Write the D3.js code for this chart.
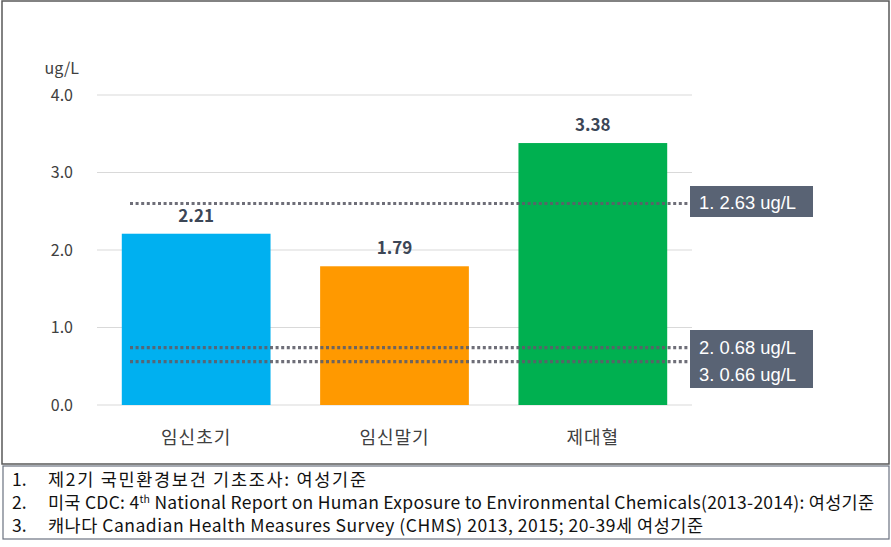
<!DOCTYPE html>
<html><head><meta charset="utf-8">
<script src="https://cdn.jsdelivr.net/npm/d3@7"></script>
<style>html,body{margin:0;padding:0;background:#fff;}svg{display:block;}</style>
</head><body>
<svg id="c" width="891" height="547"></svg>
<script>
const categories = ["임신초기", "임신말기", "제대혈"];
const values = [2.21, 1.79, 3.38];
const barColors = ["#00B0F0", "#FF9900", "#00B050"];
const yTicks = [0, 1, 2, 3, 4];
const yUnit = "ug/L";
// reference values (labels) and the levels at which the dotted lines are drawn in the picture
const refValues = [2.63, 0.68, 0.66];
const refDrawnLevels = [2.6, 0.74, 0.56];
const refLabels = ["1. 2.63 ug/L", "2. 0.68 ug/L", "3. 0.66 ug/L"];
const footNums = ["1.", "2.", "3."];
const footnotes = [
  [{t:"제2기 국민환경보건 기초조사: 여성기준"}],
  [{t:"미국 CDC: 4"},{t:"th",sup:true},{t:" National Report on Human Exposure to Environmental Chemicals(2013-2014): 여성기준"}],
  [{t:"캐나다 Canadian Health Measures Survey (CHMS) 2013, 2015; 20-39세 여성기준"}]
];
const footWidths = [318, 826, 655];

const svg = d3.select("#c");
const KR = "'Noto Sans CJK KR','Noto Sans',sans-serif";
const textCol = "#404040";

// outer boxes
svg.append("rect").attr("x",2).attr("y",1).attr("width",887).attr("height",463)
  .attr("fill","#fff").attr("stroke","#595959").attr("stroke-width",1.5);
svg.append("rect").attr("x",3).attr("y",466).attr("width",886).attr("height",73)
  .attr("fill","#fff").attr("stroke","#6b7280").attr("stroke-width",1.2);

const x = d3.scaleBand().domain(categories).range([97, 692]).paddingInner(0.25).paddingOuter(0.125);
const y = d3.scaleLinear().domain([0, 4]).range([405, 95]);

// gridlines
svg.append("g").selectAll("line").data(yTicks).join("line")
  .attr("x1",97).attr("x2",692).attr("y1",d=>y(d)).attr("y2",d=>y(d))
  .attr("stroke","#d9d9d9").attr("stroke-width",1);

// y axis labels
const yAxis = d3.axisLeft(y).tickValues(yTicks).tickFormat(d3.format(".1f")).tickSize(0).tickPadding(0);
const ga = svg.append("g").attr("transform","translate(73,0)").call(yAxis);
ga.select(".domain").remove();
ga.selectAll("text").attr("font-family",KR).attr("font-size",16).attr("fill",textCol);
svg.append("text").attr("x",79).attr("y",74).attr("text-anchor","end")
  .attr("font-family",KR).attr("font-size",16).attr("fill",textCol).text(yUnit);

// bars
svg.append("g").selectAll("rect").data(values).join("rect")
  .attr("x",(d,i)=>x(categories[i])).attr("width",x.bandwidth())
  .attr("y",d=>y(d)).attr("height",d=>y(0)-y(d))
  .attr("fill",(d,i)=>barColors[i]);

// value labels
svg.append("g").selectAll("text").data(values).join("text")
  .attr("x",(d,i)=>x(categories[i])+x.bandwidth()/2).attr("y",d=>y(d)-12)
  .attr("text-anchor","middle").attr("font-family",KR).attr("font-weight","bold")
  .attr("font-size",17).attr("fill","#3c4656").text(d=>d.toFixed(2));

// x labels
svg.append("g").selectAll("text").data(categories).join("text")
  .attr("x",d=>x(d)+x.bandwidth()/2).attr("y",444)
  .attr("text-anchor","middle").attr("font-family",KR).attr("font-size",18)
  .attr("fill",textCol).attr("letter-spacing",1).text(d=>d);

// dotted reference lines
svg.append("g").selectAll("line").data(refDrawnLevels).join("line")
  .attr("x1",130).attr("x2",689).attr("y1",d=>y(d)).attr("y2",d=>y(d))
  .attr("stroke","#5f5f6a").attr("stroke-width",3.2).attr("stroke-dasharray","3,2.6")
  .attr("opacity",0.9);

// label boxes
const boxFill = "#596374";
svg.append("rect").attr("x",690).attr("y",186).attr("width",123).attr("height",31).attr("fill",boxFill);
svg.append("rect").attr("x",690).attr("y",330).attr("width",123).attr("height",58).attr("fill",boxFill);
const labelY = [209, 354, 381];
svg.append("g").selectAll("text").data(refLabels).join("text")
  .attr("x",699).attr("y",(d,i)=>labelY[i])
  .attr("font-family","'Liberation Sans',Arial,sans-serif").attr("font-size",17.5)
  .attr("fill","#fff").attr("textLength",97).attr("lengthAdjust","spacingAndGlyphs").text(d=>d);

// footnotes
const fy = [486, 509, 532];
footNums.forEach((n,i)=>{
  svg.append("text").attr("x",12).attr("y",fy[i]).attr("font-family",KR).attr("font-size",17.5).attr("fill","#111").text(n);
  const t = svg.append("text").attr("x",48).attr("y",fy[i]).attr("font-family",KR).attr("font-size",17.5)
    .attr("fill","#111").attr("textLength",footWidths[i]).attr("lengthAdjust","spacing");
  footnotes[i].forEach((seg,j)=>{
    const ts = t.append("tspan").text(seg.t);
    if(seg.sup){ ts.attr("font-size",10.5).attr("dy",-6.5); }
    else if(j>0 && footnotes[i][j-1].sup) { ts.attr("dy",6.5); }
  });
});
</script>
</body></html>
